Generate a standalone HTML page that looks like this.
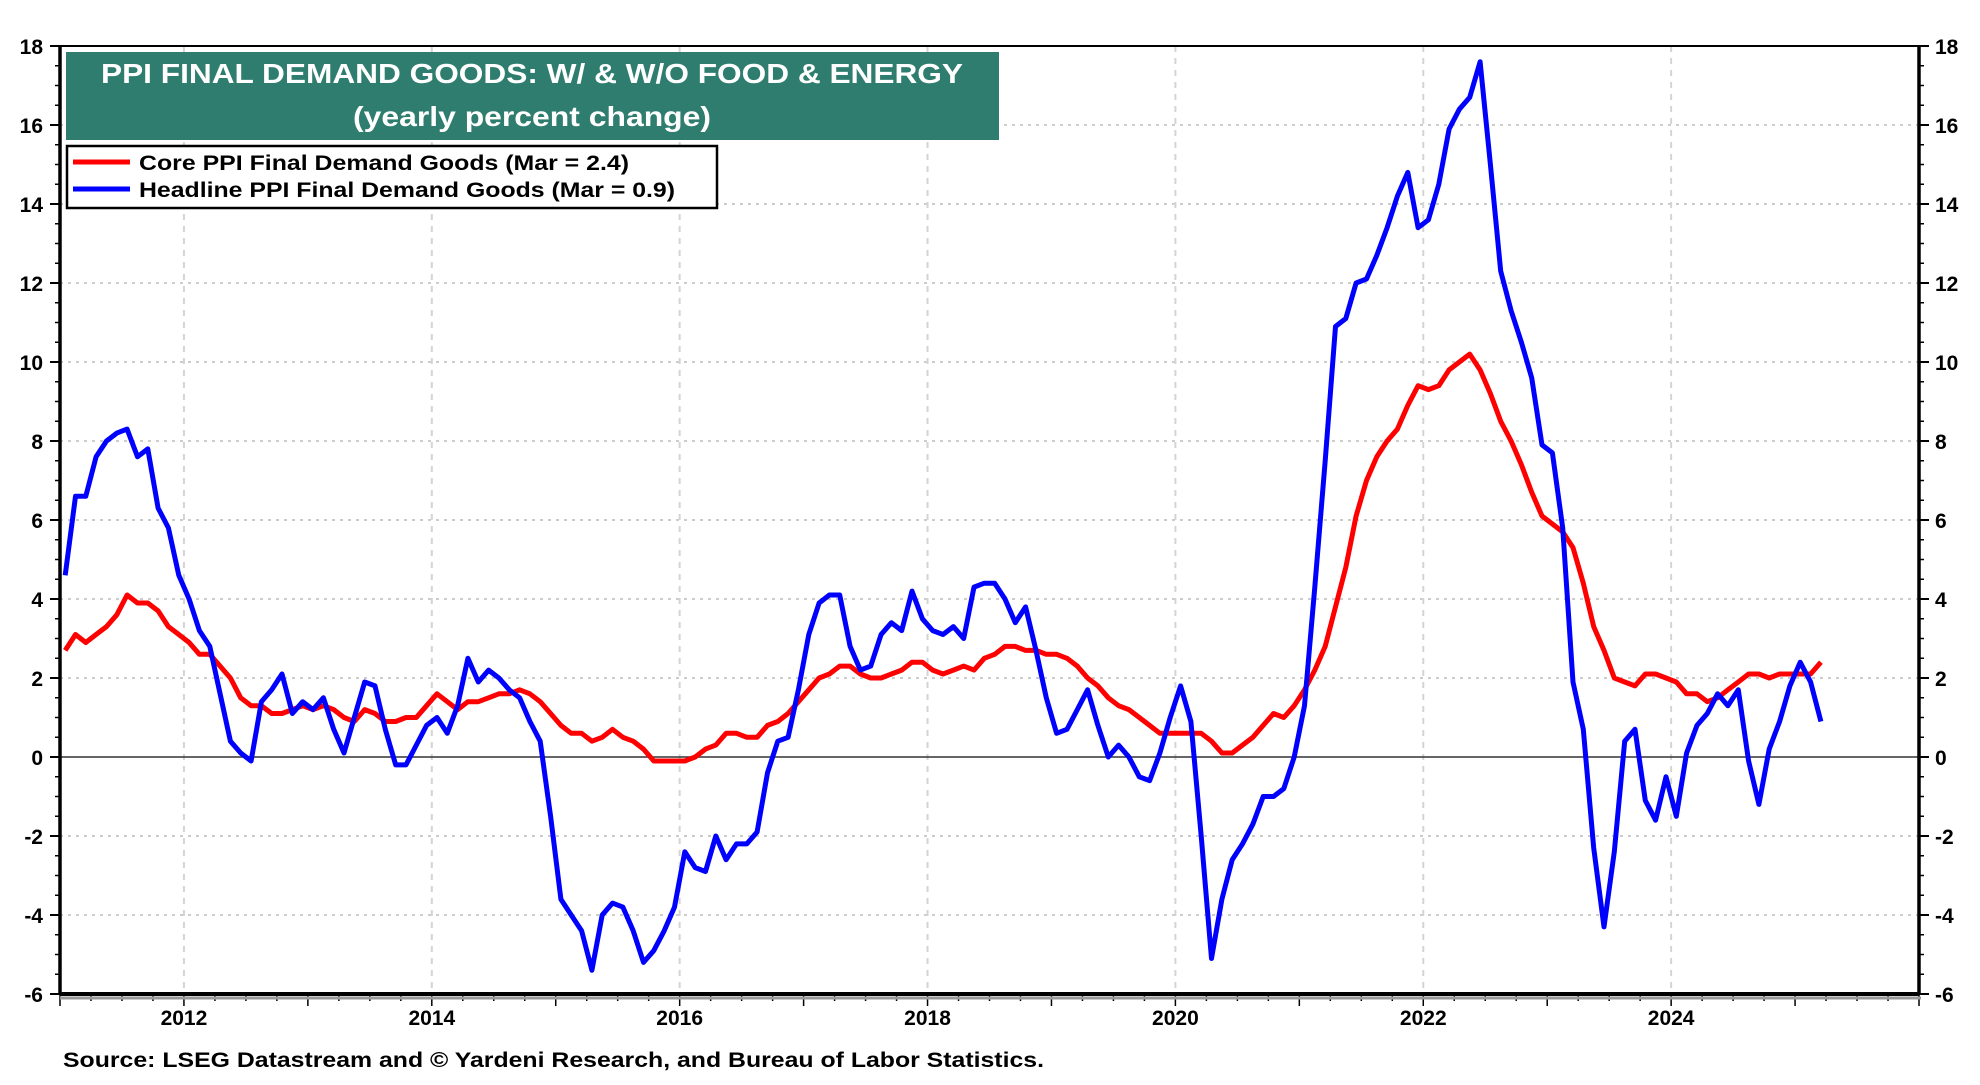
<!DOCTYPE html>
<html><head><meta charset="utf-8"><style>
html,body{margin:0;padding:0;background:#fff;}
svg text{font-family:"Liberation Sans",sans-serif;font-weight:bold;}
</style></head><body>
<svg id="chart" width="1980" height="1080" viewBox="0 0 1980 1080" xmlns="http://www.w3.org/2000/svg">
<g id="grid"></g>
<g id="axes"></g>
<g id="series"></g>
<g>
<rect x="66" y="52" width="933" height="88" fill="#2e7d6e"/>
<text x="532" y="83" fill="#fff" font-size="28" text-anchor="middle" textLength="862" lengthAdjust="spacingAndGlyphs">PPI FINAL DEMAND GOODS: W/ &amp; W/O FOOD &amp; ENERGY</text>
<text x="532" y="126" fill="#fff" font-size="28" text-anchor="middle" textLength="358" lengthAdjust="spacingAndGlyphs">(yearly percent change)</text>
</g>
<g>
<rect x="67" y="146" width="650" height="62" fill="#fff" stroke="#000" stroke-width="2.5"/>
<line x1="73" y1="162" x2="130" y2="162" stroke="#ff0000" stroke-width="5"/>
<text x="139" y="170" font-size="21" textLength="490" lengthAdjust="spacingAndGlyphs">Core PPI Final Demand Goods (Mar = 2.4)</text>
<line x1="73" y1="189" x2="130" y2="189" stroke="#0000ff" stroke-width="5"/>
<text x="139" y="197" font-size="21" textLength="536" lengthAdjust="spacingAndGlyphs">Headline PPI Final Demand Goods (Mar = 0.9)</text>
</g>
<text x="63" y="1067" font-size="21" textLength="981" lengthAdjust="spacingAndGlyphs">Source: LSEG Datastream and © Yardeni Research, and Bureau of Labor Statistics.</text>
</svg>
<script>
const startYear = 2011;
const yTicks = [-6,-4,-2,0,2,4,6,8,10,12,14,16,18];
const xTickYears = [2012,2014,2016,2018,2020,2022,2024];
const headline = [4.6,6.6,6.6,7.6,8.0,8.2,8.3,7.6,7.8,6.3,5.8,4.6,
4.0,3.2,2.8,1.6,0.4,0.1,-0.1,1.4,1.7,2.1,1.1,1.4,
1.2,1.5,0.7,0.1,1.0,1.9,1.8,0.7,-0.2,-0.2,0.3,0.8,
1.0,0.6,1.3,2.5,1.9,2.2,2.0,1.7,1.5,0.9,0.4,-1.5,
-3.6,-4.0,-4.4,-5.4,-4.0,-3.7,-3.8,-4.4,-5.2,-4.9,-4.4,-3.8,
-2.4,-2.8,-2.9,-2.0,-2.6,-2.2,-2.2,-1.9,-0.4,0.4,0.5,1.7,
3.1,3.9,4.1,4.1,2.8,2.2,2.3,3.1,3.4,3.2,4.2,3.5,
3.2,3.1,3.3,3.0,4.3,4.4,4.4,4.0,3.4,3.8,2.7,1.5,
0.6,0.7,1.2,1.7,0.8,0.0,0.3,0.0,-0.5,-0.6,0.1,1.0,
1.8,0.9,-2.0,-5.1,-3.6,-2.6,-2.2,-1.7,-1.0,-1.0,-0.8,0.0,
1.3,4.3,7.5,10.9,11.1,12.0,12.1,12.7,13.4,14.2,14.8,13.4,
13.6,14.5,15.9,16.4,16.7,17.6,15.0,12.3,11.3,10.5,9.6,7.9,
7.7,5.8,1.9,0.7,-2.3,-4.3,-2.4,0.4,0.7,-1.1,-1.6,-0.5,
-1.5,0.1,0.8,1.1,1.6,1.3,1.7,-0.1,-1.2,0.2,0.9,1.8,
2.4,1.9,0.9];
const core = [2.7,3.1,2.9,3.1,3.3,3.6,4.1,3.9,3.9,3.7,3.3,3.1,
2.9,2.6,2.6,2.3,2.0,1.5,1.3,1.3,1.1,1.1,1.2,1.3,
1.2,1.3,1.2,1.0,0.9,1.2,1.1,0.9,0.9,1.0,1.0,1.3,
1.6,1.4,1.2,1.4,1.4,1.5,1.6,1.6,1.7,1.6,1.4,1.1,
0.8,0.6,0.6,0.4,0.5,0.7,0.5,0.4,0.2,-0.1,-0.1,-0.1,
-0.1,0.0,0.2,0.3,0.6,0.6,0.5,0.5,0.8,0.9,1.1,1.4,
1.7,2.0,2.1,2.3,2.3,2.1,2.0,2.0,2.1,2.2,2.4,2.4,
2.2,2.1,2.2,2.3,2.2,2.5,2.6,2.8,2.8,2.7,2.7,2.6,
2.6,2.5,2.3,2.0,1.8,1.5,1.3,1.2,1.0,0.8,0.6,0.6,
0.6,0.6,0.6,0.4,0.1,0.1,0.3,0.5,0.8,1.1,1.0,1.3,
1.7,2.2,2.8,3.8,4.8,6.1,7.0,7.6,8.0,8.3,8.9,9.4,
9.3,9.4,9.8,10.0,10.2,9.8,9.2,8.5,8.0,7.4,6.7,6.1,
5.9,5.7,5.3,4.4,3.3,2.7,2.0,1.9,1.8,2.1,2.1,2.0,
1.9,1.6,1.6,1.4,1.5,1.7,1.9,2.1,2.1,2.0,2.1,2.1,
2.1,2.1,2.4];

const L=60,R=1919,T=46,B=994,X0=2011.0,X1=2026.0,Y0=-6,Y1=18;
const xs=v=>L+(v-X0)/(X1-X0)*(R-L);
const ys=v=>B-(v-Y0)/(Y1-Y0)*(B-T);
const NS='http://www.w3.org/2000/svg';
function mk(tag,attrs,parent){const e=document.createElementNS(NS,tag);for(const k in attrs)e.setAttribute(k,attrs[k]);parent.appendChild(e);return e;}
const grid=document.getElementById('grid'),axes=document.getElementById('axes'),series=document.getElementById('series');

yTicks.forEach(v=>{
  if(v!==Y0&&v!==Y1&&v!==0){const g=mk('line',{x1:L,x2:R,y1:ys(v),y2:ys(v),stroke:'#ccc','stroke-width':2,'stroke-dasharray':'3,5'},grid);
  
  }
  const t1=mk('text',{x:43,y:ys(v)+8,'font-size':21,'text-anchor':'end'},axes);t1.textContent=v;
  
  
  const t2=mk('text',{x:1935,y:ys(v)+8,'font-size':21},axes);t2.textContent=v;
  
  
  mk('line',{x1:L-10,x2:L,y1:ys(v),y2:ys(v),stroke:'#000','stroke-width':2},axes);
  mk('line',{x1:R,x2:R+10,y1:ys(v),y2:ys(v),stroke:'#000','stroke-width':2},axes);
});
for(let v=Y0;v<=Y1;v+=0.5){
  mk('line',{x1:L-5,x2:L,y1:ys(v),y2:ys(v),stroke:'#000','stroke-width':1.5},axes);
  mk('line',{x1:R,x2:R+5,y1:ys(v),y2:ys(v),stroke:'#000','stroke-width':1.5},axes);
}
xTickYears.forEach(y=>{
  const g=mk('line',{x1:xs(y),x2:xs(y),y1:T,y2:B,stroke:'#d4d4d4','stroke-width':2,'stroke-dasharray':'6,6'},grid);
  
  
  const t=mk('text',{x:xs(y),y:1025,'font-size':21,'text-anchor':'middle'},axes);t.textContent=y;
  
  
});
for(let q=X0;q<=X1+0.001;q+=0.25){
  const big=Math.abs(q-Math.round(q))<0.001;
  mk('line',{x1:xs(q),x2:xs(q),y1:B,y2:B+(big?12:7),stroke:'#000','stroke-width':1.5},axes);
}
mk('line',{x1:L,x2:R,y1:ys(0),y2:ys(0),stroke:'#333','stroke-width':1.5},axes);
mk('line',{x1:L,x2:L,y1:T,y2:B,stroke:'#000','stroke-width':3.5},axes);
mk('line',{x1:R,x2:R,y1:T,y2:B,stroke:'#000','stroke-width':3.5},axes);
mk('line',{x1:L,x2:R,y1:T,y2:T,stroke:'#000','stroke-width':2},axes);
mk('line',{x1:L,x2:R+2,y1:B+4,y2:B+4,stroke:'#999','stroke-width':3},axes);
mk('line',{x1:L,x2:R,y1:B,y2:B,stroke:'#000','stroke-width':4},axes);

function path(arr){return arr.map((v,i)=>(i?'L':'M')+xs(startYear+(i+0.5)/12).toFixed(1)+','+ys(v).toFixed(1)).join('');}
const pc=mk('path',{d:path(core),fill:'none',stroke:'#ff0000','stroke-width':5,'stroke-linejoin':'round'},series);


const ph=mk('path',{d:path(headline),fill:'none',stroke:'#0000ff','stroke-width':5,'stroke-linejoin':'round'},series);


</script>
</body></html>
